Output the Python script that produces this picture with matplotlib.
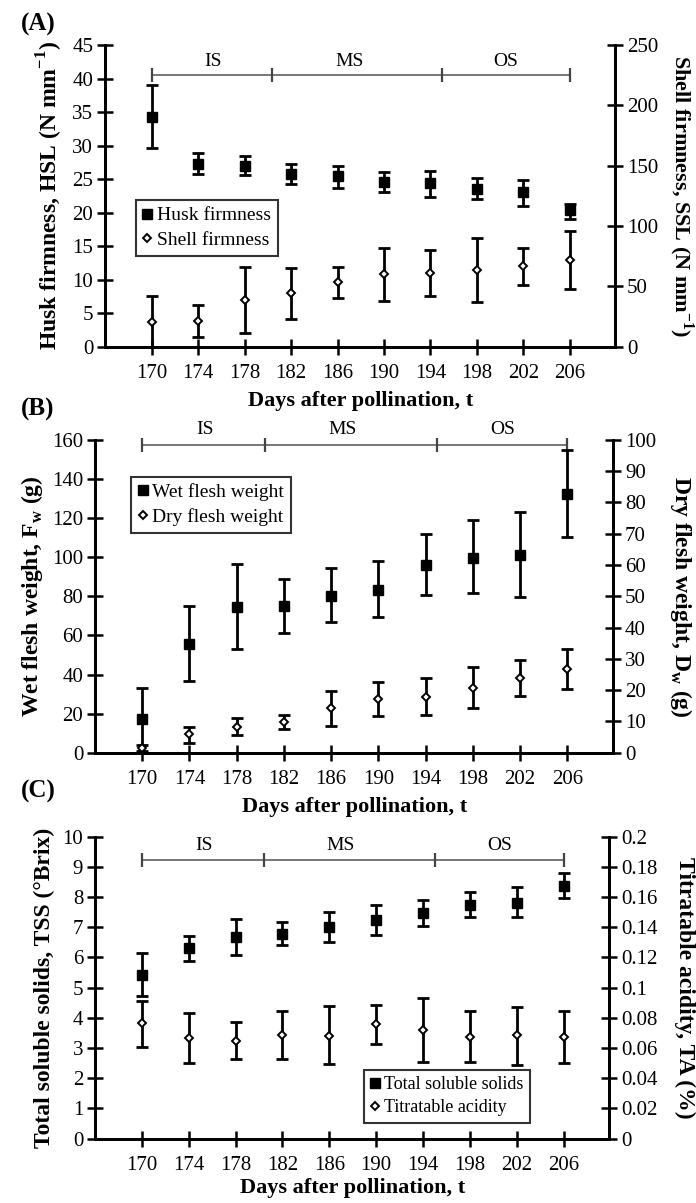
import matplotlib
matplotlib.use("Agg")
import matplotlib.pyplot as plt
import numpy as np

plt.rcParams['font.family'] = ['Liberation Serif', 'DejaVu Serif']
plt.rcParams['mathtext.fontset'] = 'custom'
plt.rcParams['mathtext.rm'] = 'Liberation Serif'
plt.rcParams['mathtext.bf'] = 'Liberation Serif:bold'

days = [170, 174, 178, 182, 186, 190, 194, 198, 202, 206]

# (A) firmness
husk = [34.3, 27.3, 27.0, 25.8, 25.4, 24.6, 24.4, 23.5, 23.0, 20.4]
husk_lo = [29.7, 25.8, 25.6, 24.3, 23.6, 23.1, 22.4, 22.0, 21.0, 19.1]
husk_hi = [39.0, 28.9, 28.4, 27.2, 26.9, 26.0, 26.2, 25.2, 24.9, 21.3]
shell = [20.7, 21.5, 38.7, 44.2, 53.3, 59.9, 61.3, 63.5, 66.9, 71.8]
shell_lo = [0.0, 8.3, 11.1, 22.7, 40.6, 37.8, 42.0, 36.7, 51.1, 47.5]
shell_hi = [42.3, 34.5, 65.8, 65.2, 65.8, 82.0, 80.1, 89.8, 82.0, 96.1]

# (B) flesh weight
wet = [17.1, 55.5, 74.7, 75.1, 80.4, 83.3, 96.1, 99.8, 100.9, 132.4]
wet_lo = [1.0, 36.7, 53.1, 61.4, 66.7, 69.5, 80.5, 81.6, 79.9, 110.6]
wet_hi = [32.9, 75.3, 96.6, 89.1, 94.4, 98.1, 111.8, 118.8, 122.9, 154.6]
dry = [1.4, 6.0, 8.3, 9.7, 14.2, 17.2, 17.9, 20.8, 24.0, 26.8]
dry_lo = [0.0, 3.0, 5.7, 7.5, 8.6, 11.7, 12.0, 14.4, 18.2, 20.3]
dry_hi = [2.5, 8.3, 11.0, 12.1, 19.7, 22.5, 23.8, 27.3, 29.6, 33.0]

# (C) TSS / TA
tss = [5.42, 6.30, 6.67, 6.78, 7.02, 7.24, 7.48, 7.74, 7.81, 8.38]
tss_lo = [4.73, 5.88, 6.08, 6.41, 6.52, 6.74, 7.05, 7.33, 7.33, 7.96]
tss_hi = [6.14, 6.71, 7.26, 7.19, 7.52, 7.74, 7.90, 8.16, 8.34, 8.79]
ta = [0.0764, 0.0664, 0.0649, 0.0687, 0.0682, 0.0757, 0.072, 0.0675, 0.0687, 0.0671]
ta_lo = [0.061, 0.0503, 0.0525, 0.0528, 0.0492, 0.0625, 0.051, 0.0506, 0.0488, 0.0499]
ta_hi = [0.0912, 0.0834, 0.077, 0.0848, 0.0879, 0.0885, 0.093, 0.0845, 0.0874, 0.0845]

stage_bounds = [170, 180.4, 195.0, 206]
stage_names = ['IS', 'MS', 'OS']
stage_text_x = [175.3, 187.0, 200.5]

TICK_FS = 15
XLAB_FS = 16


def yerr(m, lo, hi):
    m = np.array(m)
    return [m - np.array(lo), np.array(hi) - m]


def style(ax, right=False):
    ax.spines['top'].set_visible(False)
    for s in ax.spines.values():
        s.set_linewidth(2.0)
    ax.tick_params(direction='inout', length=11, width=1.8, labelsize=TICK_FS)
    if right:
        ax.tick_params(axis='y', left=False, right=True, labelleft=False, labelright=True, pad=3)
        ax.tick_params(axis='x', bottom=False, labelbottom=False)
    else:
        ax.tick_params(axis='y', right=False, pad=3)
        ax.tick_params(axis='x', pad=7)


def panel(rect, y1, y1_lo, y1_hi, y2, y2_lo, y2_hi, ylim1, yticks1, ylim2, yticks2,
          ylab1, ylab2, lab1, lab2, leg_loc, leg_anchor, leg_fs, stage_y, stage_ty, tag,
          yfs=(17, 17), xpad=6):
    ax = fig.add_axes(rect)
    ax2 = ax.twinx()
    ax.errorbar(days, y1, yerr=yerr(y1, y1_lo, y1_hi), fmt='none', ecolor='black',
                elinewidth=2, capsize=4, capthick=2, zorder=3)
    h1, = ax.plot(days, y1, 's', color='black', ms=6.5, ls='none', label=lab1, zorder=4)
    ax2.errorbar(days, y2, yerr=yerr(y2, y2_lo, y2_hi), fmt='none', ecolor='black',
                 elinewidth=2, capsize=4, capthick=2, zorder=3)
    h2, = ax2.plot(days, y2, 'D', mfc='white', mec='black', mew=1.4, ms=4.5, ls='none',
                   label=lab2, zorder=4)
    ax.set_xlim(166.0, 209.9)
    ax.set_ylim(*ylim1)
    ax.set_yticks(yticks1)
    ax2.set_ylim(*ylim2)
    ax2.set_yticks(yticks2)
    ax2.set_yticklabels(['{:g}'.format(v) for v in yticks2])
    ax.set_xticks(days)
    style(ax)
    style(ax2, right=True)
    ax.set_xlabel('Days after pollination, t', fontsize=XLAB_FS, fontweight='bold', labelpad=xpad)
    ax.set_ylabel(ylab1, fontsize=yfs[0], fontweight='bold', labelpad=5)
    ax2.set_ylabel(ylab2, fontsize=yfs[1], fontweight='bold', rotation=270, labelpad=27)

    # development stages
    ax.plot([stage_bounds[0], stage_bounds[-1]], [stage_y, stage_y], color='#777777', lw=1.4,
            clip_on=False, zorder=2)
    ax.plot(stage_bounds, [stage_y] * 4, ls='none', marker='|', ms=10, mew=1.6,
            color='#444444', clip_on=False, zorder=2)
    for tx, nm in zip(stage_text_x, stage_names):
        ax.text(tx, stage_ty, nm, ha='center', va='center', fontsize=14, clip_on=False)

    leg = ax2.legend(handles=[h1, h2], loc=leg_loc, bbox_to_anchor=leg_anchor, fontsize=leg_fs,
                     frameon=True, fancybox=False, edgecolor='black', handlelength=0.5,
                     handletextpad=0.25, borderpad=0.35, labelspacing=0.35, borderaxespad=0)
    leg.get_frame().set_linewidth(1.5)
    fig.text(0.03, rect[1] + rect[3] + tag[1], tag[0], fontsize=18, fontweight='bold',
             ha='left', va='center')
    return ax, ax2


fig = plt.figure(figsize=(6.96, 12.03), dpi=100)

panel([0.151, 0.7118, 0.733, 0.2508], husk, husk_lo, husk_hi, shell, shell_lo, shell_hi,
      (0, 45), range(0, 46, 5), (0, 250), list(range(0, 251, 50)),
      'Husk firmness, HSL (N mm$^{\\mathbf{-1}}$)', 'Shell firmness, SSL (N mm$^{\\mathbf{-1}}$)',
      'Husk firmness', 'Shell firmness', 'upper left', (0.06, 0.486), 14,
      40.5, 42.5, ('(A)', 0.017), yfs=(17, 16))

panel([0.1365, 0.3743, 0.7447, 0.260], wet, wet_lo, wet_hi, dry, dry_lo, dry_hi,
      (0, 160), range(0, 161, 20), (0, 100), list(range(0, 101, 10)),
      'Wet flesh weight, F$_{\\mathbf{w}}$ (g)', 'Dry flesh weight, D$_{\\mathbf{w}}$ (g)',
      'Wet flesh weight', 'Dry flesh weight', 'upper left', (0.0695, 0.883), 14,
      157.2, 165.1, ('(B)', 0.025))

panel([0.1365, 0.0535, 0.739, 0.251], tss, tss_lo, tss_hi, ta, ta_lo, ta_hi,
      (0, 10), range(0, 11, 1), (0, 0.2), [round(v, 2) for v in np.arange(0, 0.201, 0.02)],
      'Total soluble solids, TSS (°Brix)', 'Titratable acidity, TA (%)',
      'Total soluble solids', 'Titratable acidity', 'lower left', (0.523, 0.053), 13,
      9.23, 9.72, ('(C)', 0.038), xpad=2)

fig.savefig('out.png', dpi=100)
